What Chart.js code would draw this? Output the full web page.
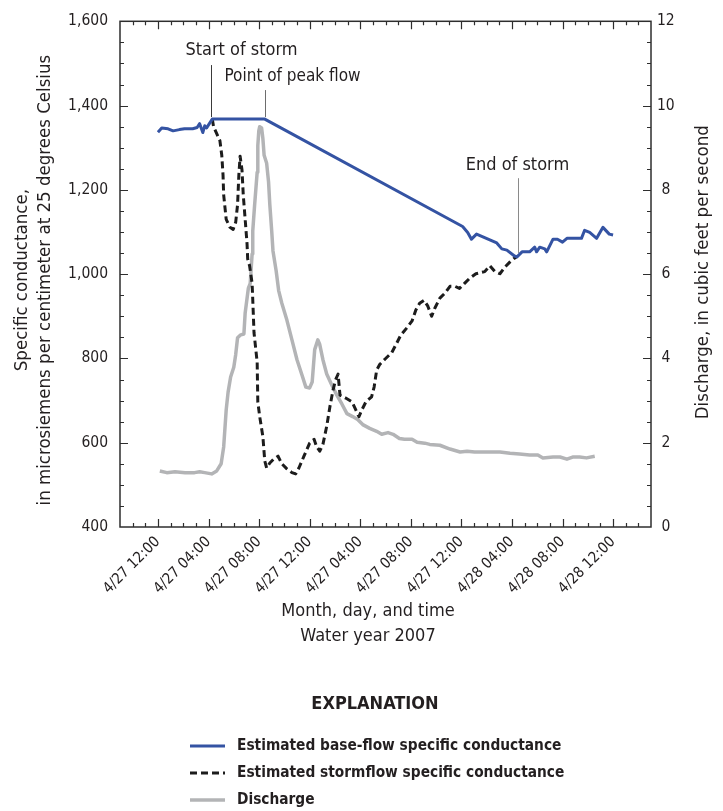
<!DOCTYPE html>
<html>
<head>
<meta charset="utf-8">
<title>Specific conductance and discharge, storm of April 27-28, 2007</title>
<script src="https://cdn.jsdelivr.net/npm/chart.js@4.4.0/dist/chart.umd.min.js"></script>
<style>
  html, body { margin: 0; padding: 0; background: #fff; }
  #canvas_side { width: 723px; height: 811px; }
</style>
</head>
<body>
<div id="canvas_side"><canvas id="myChart" width="723" height="811"></canvas></div>
<script>
// x values are hours after the first labelled tick (4/27 12:00)
var tickHours = [0, 4, 8, 12, 16, 20, 24, 28, 32, 36];
var tickLabels = ['4/27 12:00', '4/27 04:00', '4/27 08:00', '4/27 12:00', '4/27 04:00',
                  '4/27 08:00', '4/27 12:00', '4/28 04:00', '4/28 08:00', '4/28 12:00'];

// estimated base-flow specific conductance, uS/cm
var baseHours = [0, 0.3, 0.8, 1.2, 1.7, 2.1, 2.75, 3.1, 3.3, 3.55, 3.7, 3.85, 4.3, 8.45,
                 24.1, 24.5, 24.8, 25.2, 26.8, 27.2, 27.6, 28.2, 28.4, 28.8, 29.4, 29.8,
                 29.95, 30.2, 30.6, 30.75, 31.25, 31.6, 32.0, 32.35, 33.5, 33.75, 34.15,
                 34.7, 35.2, 35.7, 36.0];
var baseConductance = [1337, 1347, 1345, 1340, 1343, 1345, 1345, 1348, 1357, 1336, 1352, 1347, 1368, 1368,
                       1113, 1099, 1083, 1095, 1074, 1060, 1057, 1043, 1041, 1053, 1053, 1064,
                       1053, 1064, 1060, 1053, 1083, 1083, 1076, 1085, 1085, 1104, 1099,
                       1085, 1111, 1095, 1093];

// estimated stormflow specific conductance, uS/cm
var stormHours = [4.3, 4.4, 4.9, 5.05, 5.15, 5.2, 5.4, 5.7, 5.95, 6.15, 6.3, 6.4, 6.5, 6.65, 6.75,
                  6.9, 7.05, 7.1, 7.25, 7.45, 7.5, 7.6, 7.85, 7.9, 8.05, 8.3, 8.45, 8.6, 8.85,
                  9.15, 9.5, 9.8, 10.2, 10.6, 10.9, 11.15, 11.55, 12.0, 12.35, 12.55, 12.8,
                  13.05, 13.35, 13.6, 13.85, 14.05, 14.25, 14.4, 14.85, 15.35, 15.65, 15.9,
                  16.15, 16.45, 16.9, 17.1, 17.3, 17.55, 17.95, 18.5, 18.9, 19.2, 19.7, 20.1,
                  20.4, 20.7, 21.05, 21.35, 21.65, 21.9, 22.3, 22.7, 23.1, 23.5, 23.85, 24.25,
                  24.65, 25.15, 25.85, 26.25, 26.65, 27.05, 27.45, 27.85, 28.2, 28.4];
var stormConductance = [1368, 1350, 1317, 1282, 1235, 1188, 1130, 1111, 1106, 1123, 1165, 1235, 1280, 1247, 1188,
                        1130, 1071, 1036, 1020, 978, 940, 861, 791, 697, 662, 615, 557, 540, 552,
                        561, 568, 550, 538, 529, 526, 540, 568, 599, 608, 591, 580,
                        596, 639, 685, 725, 749, 763, 713, 706, 697, 678, 662,
                        679, 697, 709, 732, 772, 786, 798, 814, 837, 855, 873, 889,
                        915, 931, 938, 924, 900, 919, 943, 955, 971, 971, 966, 978,
                        990, 1001, 1006, 1020, 1006, 1001, 1017, 1029, 1038, 1042];

// discharge, ft3/s
var dischargeHours = [0.15, 0.7, 1.35, 2.15, 2.9, 3.3, 3.7, 4.25, 4.65, 5.0, 5.2, 5.4, 5.55, 5.75, 6.0,
                      6.15, 6.3, 6.55, 6.8, 6.9, 7.05, 7.15, 7.3, 7.45, 7.5, 7.65, 7.85, 7.9, 7.98,
                      8.05, 8.2, 8.3, 8.4, 8.6, 8.75, 8.85, 9.0, 9.1, 9.35, 9.55, 9.8, 10.2, 10.6,
                      11.0, 11.4, 11.7, 12.0, 12.2, 12.4, 12.65, 12.8, 13.05, 13.35, 13.75, 14.15,
                      14.55, 14.95, 15.4, 15.8, 16.2, 16.75, 17.3, 17.7, 18.2, 18.6, 19.1, 19.5,
                      20.1, 20.5, 21.1, 21.5, 22.3, 23.1, 23.9, 24.45, 25.05, 26.0, 27.05, 27.85,
                      28.6, 29.4, 30.05, 30.45, 31.25, 31.8, 32.35, 32.8, 33.35, 33.9, 34.55];
var dischargeCfs = [1.33, 1.29, 1.31, 1.29, 1.29, 1.31, 1.29, 1.26, 1.33, 1.5, 1.9, 2.78, 3.2, 3.56, 3.79,
                    4.09, 4.49, 4.56, 4.58, 5.08, 5.43, 5.66, 5.78, 6.48, 7.02, 7.65, 8.42, 9.05, 9.4,
                    9.5, 9.47, 9.22, 8.82, 8.63, 8.19, 7.65, 7.02, 6.55, 6.08, 5.61, 5.31, 4.91, 4.44,
                    3.97, 3.6, 3.32, 3.3, 3.44, 4.21, 4.44, 4.33, 3.97, 3.63, 3.37, 3.13,
                    2.92, 2.69, 2.62, 2.55, 2.43, 2.34, 2.27, 2.2, 2.24, 2.2, 2.1, 2.08,
                    2.08, 2.01, 1.99, 1.96, 1.94, 1.85, 1.78, 1.8, 1.78, 1.78, 1.78, 1.75,
                    1.73, 1.71, 1.71, 1.64, 1.66, 1.66, 1.61, 1.66, 1.66, 1.64, 1.68];

// storm markers: where each leader line meets the base-flow curve
var noteText = ['Start of storm', 'Point of peak flow', 'End of storm'];
var noteHours = [4.2, 8.45, 28.5];
var noteConductance = [1368, 1368, 1045];

var TEXT_FONT = '"DejaVu Sans Condensed", "DejaVu Sans", sans-serif';
var INK = '#231f20';

// leader length, label offset and line colour for each marker
var noteStyle = [
    {len: 54, dx: 30, dy: -15, color: '#3a3a3a'},
    {len: 29, dx: 27, dy: -13, color: '#6d6d6d'},
    {len: 77, dx: -1, dy: -13, color: '#8a8a8a'}
];

function toPoints(xs, ys) {
    return xs.map(function (x, i) { return {x: x, y: ys[i]}; });
}

//frame with tick marks pointing into the plot on all four sides
var axisFrame = {
    id: 'axisFrame',
    beforeDatasetsDraw: function (chart) {
        var ctx = chart.ctx, a = chart.chartArea, s = chart.scales;
        ctx.save();
        ctx.strokeStyle = '#2e2e2e';
        ctx.lineWidth = 1.2;
        ctx.beginPath();
        for (var h = s.x.min + 1; h < s.x.max; h++) {
            var px = Math.round(s.x.getPixelForValue(h)) + 0.5;
            var len = (h % 4 === 0) ? 8 : 4;
            ctx.moveTo(px, a.bottom); ctx.lineTo(px, a.bottom - len);
            ctx.moveTo(px, a.top); ctx.lineTo(px, a.top + len);
        }
        for (var v = 450; v < 1600; v += 50) {
            var py = Math.round(s.yLeft.getPixelForValue(v)) + 0.5;
            ctx.moveTo(a.left, py); ctx.lineTo(a.left + (v % 200 === 0 ? 8 : 4), py);
        }
        for (var q = 0.5; q < 12; q += 0.5) {
            var qy = Math.round(s.yRight.getPixelForValue(q)) + 0.5;
            ctx.moveTo(a.right, qy); ctx.lineTo(a.right - (q % 2 === 0 ? 8 : 4), qy);
        }
        ctx.stroke();
        ctx.lineWidth = 1.5;
        ctx.strokeRect(a.left, a.top, a.right - a.left, a.bottom - a.top);
        ctx.restore();
    }
};

//leader lines and storm labels, titles and the explanation block
var chartText = {
    id: 'chartText',
    afterDraw: function (chart) {
        var ctx = chart.ctx, a = chart.chartArea, s = chart.scales;
        ctx.save();
        ctx.fillStyle = INK;
        ctx.textBaseline = 'middle';

        noteText.forEach(function (txt, i) {
            var st = noteStyle[i];
            var x = Math.round(s.x.getPixelForValue(noteHours[i])) + 0.5;
            var y = s.yLeft.getPixelForValue(noteConductance[i]);
            ctx.strokeStyle = st.color;
            ctx.lineWidth = 1;
            ctx.beginPath();
            ctx.moveTo(x, y - 2);
            ctx.lineTo(x, y - st.len);
            ctx.stroke();
            ctx.font = (i === 1 ? '17px ' : '18px ') + TEXT_FONT;
            ctx.textAlign = 'center';
            ctx.fillText(txt, x + st.dx, y - st.len + st.dy);
        });

        // axis titles
        ctx.font = '18px ' + TEXT_FONT;
        ctx.textAlign = 'center';
        ctx.fillText('Month, day, and time', 368, 611);
        ctx.fillText('Water year 2007', 368, 636);

        var midY = (a.top + a.bottom) / 2;
        ctx.save();
        ctx.translate(22, midY + 6);
        ctx.rotate(-Math.PI / 2);
        ctx.font = '18.5px ' + TEXT_FONT;
        ctx.fillText('Specific conductance,', 0, 0);
        ctx.fillText('in microsiemens per centimeter at 25 degrees Celsius', 0, 23);
        ctx.restore();

        ctx.save();
        ctx.translate(703, midY - 2);
        ctx.rotate(-Math.PI / 2);
        ctx.font = '18.5px ' + TEXT_FONT;
        ctx.fillText('Discharge, in cubic feet per second', 0, 0);
        ctx.restore();

        // explanation
        ctx.font = 'bold 18px ' + TEXT_FONT;
        ctx.fillText('EXPLANATION', 375, 704);
        ctx.textAlign = 'left';
        ctx.font = 'bold 15.3px ' + TEXT_FONT;
        chart.data.datasets.forEach(function (ds, i) {
            var ly = 746 + i * 27;
            ctx.strokeStyle = ds.borderColor;
            ctx.lineWidth = ds.borderWidth;
            ctx.setLineDash(ds.borderDash || []);
            ctx.beginPath();
            ctx.moveTo(190, ly);
            ctx.lineTo(225, ly);
            ctx.stroke();
            ctx.setLineDash([]);
            ctx.fillText(ds.label, 237, ly);
        });
        ctx.restore();
    }
};

var ctx = document.getElementById('myChart').getContext('2d');

var myLineChart = new Chart(ctx, {
    type: 'line',
    data: {
        datasets: [{
            label: 'Estimated base-flow specific conductance',
            data: toPoints(baseHours, baseConductance),
            borderColor: '#3453a3',
            borderWidth: 3,
            yAxisID: 'yLeft',
            order: 0
        }, {
            label: 'Estimated stormflow specific conductance',
            data: toPoints(stormHours, stormConductance),
            borderColor: '#1c1c1c',
            borderWidth: 3,
            borderDash: [7, 4],
            yAxisID: 'yLeft',
            order: 1
        }, {
            label: 'Discharge',
            data: toPoints(dischargeHours, dischargeCfs),
            borderColor: '#b3b4b6',
            borderWidth: 3.5,
            yAxisID: 'yRight',
            order: 2
        }]
    },
    options: {
        responsive: false,
        animation: false,
        parsing: false,
        elements: {
            point: {radius: 0},
            line: {tension: 0, fill: false, borderJoinStyle: 'round', borderCapStyle: 'butt'}
        },
        layout: {padding: {top: 14, left: 0, right: 0, bottom: 0}},
        plugins: {
            legend: {display: false},
            title: {display: false},
            tooltip: {enabled: false}
        },
        scales: {
            x: {
                type: 'linear',
                min: -3,
                max: 39,
                grid: {display: false, drawTicks: false},
                border: {display: false},
                afterBuildTicks: function (scale) {
                    scale.ticks = tickHours.map(function (h) { return {value: h}; });
                },
                afterFit: function (scale) { scale.height = 284; },
                ticks: {
                    autoSkip: false,
                    minRotation: 45,
                    maxRotation: 45,
                    padding: 6,
                    color: INK,
                    font: {family: TEXT_FONT, size: 15},
                    callback: function (value, index) { return tickLabels[index]; }
                }
            },
            yLeft: {
                type: 'linear',
                position: 'left',
                min: 400,
                max: 1600,
                grid: {display: false, drawTicks: false},
                border: {display: false},
                afterFit: function (scale) { scale.width = 120; },
                ticks: {
                    stepSize: 200,
                    padding: 12,
                    color: INK,
                    font: {family: TEXT_FONT, size: 15.5},
                    callback: function (value) { return value.toLocaleString('en-US'); }
                }
            },
            yRight: {
                type: 'linear',
                position: 'right',
                min: 0,
                max: 12,
                grid: {display: false, drawTicks: false},
                border: {display: false},
                afterFit: function (scale) { scale.width = 72; },
                ticks: {
                    stepSize: 2,
                    padding: 6,
                    crossAlign: 'center',
                    color: INK,
                    font: {family: TEXT_FONT, size: 15.5}
                }
            }
        }
    },
    plugins: [axisFrame, chartText]
});
</script>
</body>
</html>
